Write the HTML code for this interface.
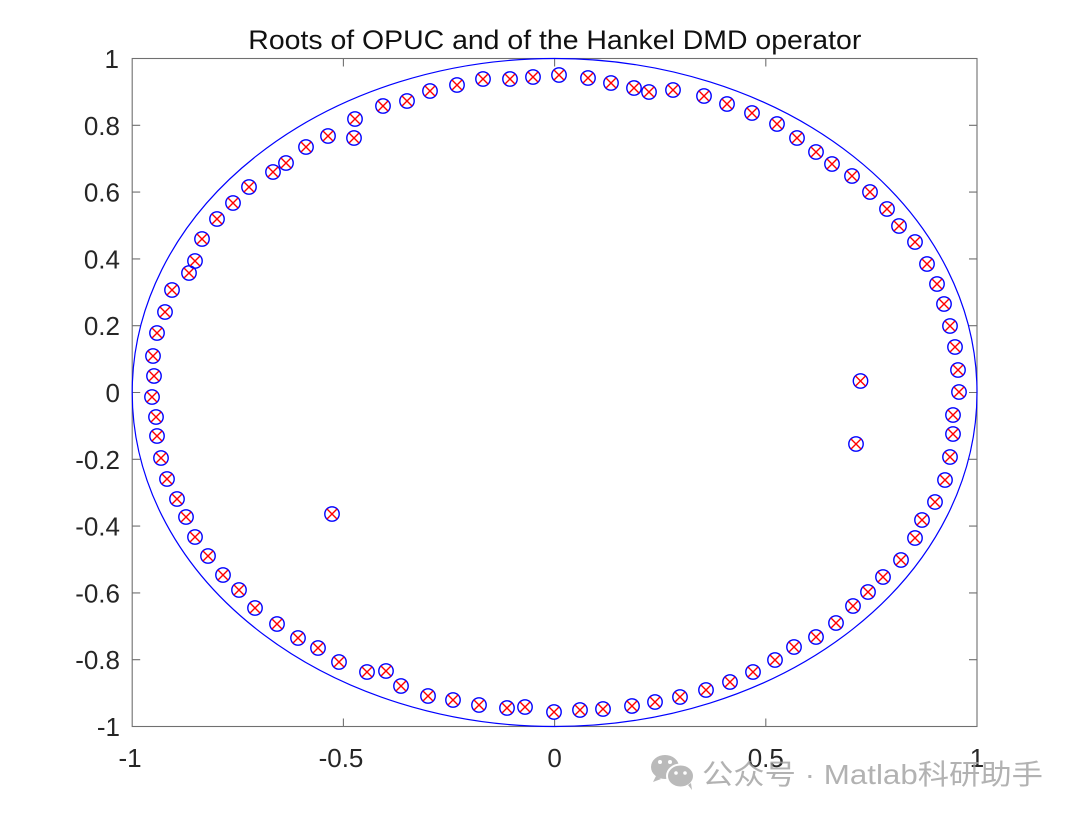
<!DOCTYPE html>
<html><head><meta charset="utf-8"><style>
html,body{margin:0;padding:0;background:#fff;}
svg{display:block;}
text{font-family:"Liberation Sans","Noto Sans CJK SC",sans-serif;}
</style></head><body>
<svg width="1080" height="816" viewBox="0 0 1080 816" xmlns="http://www.w3.org/2000/svg">
<defs>
<g id="m">
<circle cx="0" cy="0" r="7.2" fill="none" stroke="#0000ff" stroke-width="1.4"/>
<path d="M-5,-5L5,5M-5,5L5,-5" stroke="#ff0000" stroke-width="1.4" fill="none"/>
</g>
</defs>
<rect width="1080" height="816" fill="#fff"/>
<!-- axes box -->
<rect x="132.2" y="58.5" width="844.8" height="668" fill="none" stroke="#707070" stroke-width="1.1"/>
<g stroke="#707070" stroke-width="1.1">
<!-- x ticks bottom/top -->
<path d="M343.4,726.5v-8M554.6,726.5v-8M765.8,726.5v-8M343.4,58.5v8M554.6,58.5v8M765.8,58.5v8"/>
<!-- y ticks left/right -->
<path d="M132.2,125.3h8M132.2,192.1h8M132.2,258.9h8M132.2,325.7h8M132.2,392.5h8M132.2,459.3h8M132.2,526.1h8M132.2,592.9h8M132.2,659.7h8"/>
<path d="M977,125.3h-8M977,192.1h-8M977,258.9h-8M977,325.7h-8M977,392.5h-8M977,459.3h-8M977,526.1h-8M977,592.9h-8M977,659.7h-8"/>
</g>
<!-- title -->
<text x="248.3" y="49" font-size="27" fill="#111" textLength="613" lengthAdjust="spacingAndGlyphs">Roots of OPUC and of the Hankel DMD operator</text>
<!-- y tick labels -->
<g font-size="26" fill="#262626" text-anchor="end">
<text x="119" y="68">1</text>
<text x="120" y="134.8">0.8</text>
<text x="120" y="201.6">0.6</text>
<text x="120" y="268.4">0.4</text>
<text x="120" y="335.2">0.2</text>
<text x="120" y="402">0</text>
<text x="120" y="468.8">-0.2</text>
<text x="120" y="535.6">-0.4</text>
<text x="120" y="602.4">-0.6</text>
<text x="120" y="669.2">-0.8</text>
<text x="120" y="736">-1</text>
</g>
<!-- x tick labels -->
<g font-size="26" fill="#262626" text-anchor="middle">
<text x="130" y="767">-1</text>
<text x="341" y="767">-0.5</text>
<text x="554.6" y="767">0</text>
<text x="765.8" y="767">0.5</text>
<text x="977" y="767">1</text>
</g>
<!-- unit circle -->
<ellipse cx="554.6" cy="392.5" rx="422.4" ry="334" fill="none" stroke="#0000ff" stroke-width="1.2"/>
<!-- markers -->
<g>
<use href="#m" x="165" y="312"/><use href="#m" x="172" y="290"/><use href="#m" x="189" y="273"/><use href="#m" x="195" y="261"/>
<use href="#m" x="202" y="239"/><use href="#m" x="217" y="219"/><use href="#m" x="233" y="203"/><use href="#m" x="249" y="187"/>
<use href="#m" x="273" y="172"/><use href="#m" x="286" y="163"/><use href="#m" x="306" y="147"/><use href="#m" x="328" y="136"/>
<use href="#m" x="355" y="119"/><use href="#m" x="354" y="138"/><use href="#m" x="383" y="106"/><use href="#m" x="407" y="101"/>
<use href="#m" x="430" y="91"/><use href="#m" x="457" y="85"/><use href="#m" x="483" y="79"/><use href="#m" x="510" y="79"/>
<use href="#m" x="533" y="77"/><use href="#m" x="559" y="75"/><use href="#m" x="588" y="78"/><use href="#m" x="611" y="83"/>
<use href="#m" x="634" y="88"/><use href="#m" x="649" y="92"/><use href="#m" x="673" y="90"/><use href="#m" x="704" y="96"/>
<use href="#m" x="727" y="104"/><use href="#m" x="752" y="113"/><use href="#m" x="777" y="124"/><use href="#m" x="797" y="138"/>
<use href="#m" x="816" y="152"/><use href="#m" x="832" y="164"/><use href="#m" x="852" y="176"/><use href="#m" x="870" y="192"/>
<use href="#m" x="887" y="209"/><use href="#m" x="899" y="226"/><use href="#m" x="915" y="242"/><use href="#m" x="927" y="264"/>
<use href="#m" x="937" y="284"/><use href="#m" x="944" y="304"/><use href="#m" x="950" y="326"/><use href="#m" x="955" y="347"/>
<use href="#m" x="958" y="370"/><use href="#m" x="959" y="392"/><use href="#m" x="953" y="415"/><use href="#m" x="953" y="434"/>
<use href="#m" x="950" y="457"/><use href="#m" x="945" y="480"/><use href="#m" x="935" y="502"/><use href="#m" x="922" y="520"/>
<use href="#m" x="915" y="538"/><use href="#m" x="901" y="560"/><use href="#m" x="883" y="577"/><use href="#m" x="868" y="592"/>
<use href="#m" x="853" y="606"/><use href="#m" x="836" y="623"/><use href="#m" x="816" y="637"/><use href="#m" x="794" y="647"/>
<use href="#m" x="775" y="660"/><use href="#m" x="753" y="672"/><use href="#m" x="730" y="682"/><use href="#m" x="706" y="690"/>
<use href="#m" x="680" y="697"/><use href="#m" x="655" y="702"/><use href="#m" x="632" y="706"/><use href="#m" x="603" y="709"/>
<use href="#m" x="580" y="710"/><use href="#m" x="554" y="712"/><use href="#m" x="525" y="707"/><use href="#m" x="507" y="708"/>
<use href="#m" x="479" y="705"/><use href="#m" x="453" y="700"/><use href="#m" x="428" y="696"/><use href="#m" x="401" y="686"/>
<use href="#m" x="386" y="671"/><use href="#m" x="367" y="672"/><use href="#m" x="339" y="662"/><use href="#m" x="318" y="648"/>
<use href="#m" x="298" y="638"/><use href="#m" x="277" y="624"/><use href="#m" x="255" y="608"/><use href="#m" x="239" y="590"/>
<use href="#m" x="223" y="575"/><use href="#m" x="208" y="556"/><use href="#m" x="195" y="537"/><use href="#m" x="186" y="517"/>
<use href="#m" x="177" y="499"/><use href="#m" x="167" y="479"/><use href="#m" x="161" y="458"/><use href="#m" x="157" y="436"/>
<use href="#m" x="156" y="417"/><use href="#m" x="152" y="397"/><use href="#m" x="154" y="376"/><use href="#m" x="153" y="356"/>
<use href="#m" x="157" y="333"/>
<use href="#m" x="332" y="514"/><use href="#m" x="860.5" y="381"/><use href="#m" x="856" y="444"/>
</g>
<!-- watermark -->
<g opacity="0.8">
<ellipse cx="665" cy="767" rx="14" ry="12" fill="#a9a9a9"/>
<path d="M656,776 l-3,6 l8,-3z" fill="#a9a9a9"/>
<ellipse cx="680.5" cy="776" rx="13.5" ry="11.5" fill="#a9a9a9" stroke="#fff" stroke-width="2"/>
<path d="M688,785 l4,5 l-1,-7z" fill="#a9a9a9"/>
<circle cx="660" cy="762" r="2" fill="#fff"/><circle cx="670" cy="762" r="2" fill="#fff"/>
<circle cx="676" cy="773" r="1.8" fill="#fff"/><circle cx="685" cy="773" r="1.8" fill="#fff"/>
<text x="702" y="784" font-size="28" fill="#a0a0a0" textLength="341" lengthAdjust="spacingAndGlyphs">公众号 · Matlab科研助手</text>
</g>
</svg>
</body></html>
